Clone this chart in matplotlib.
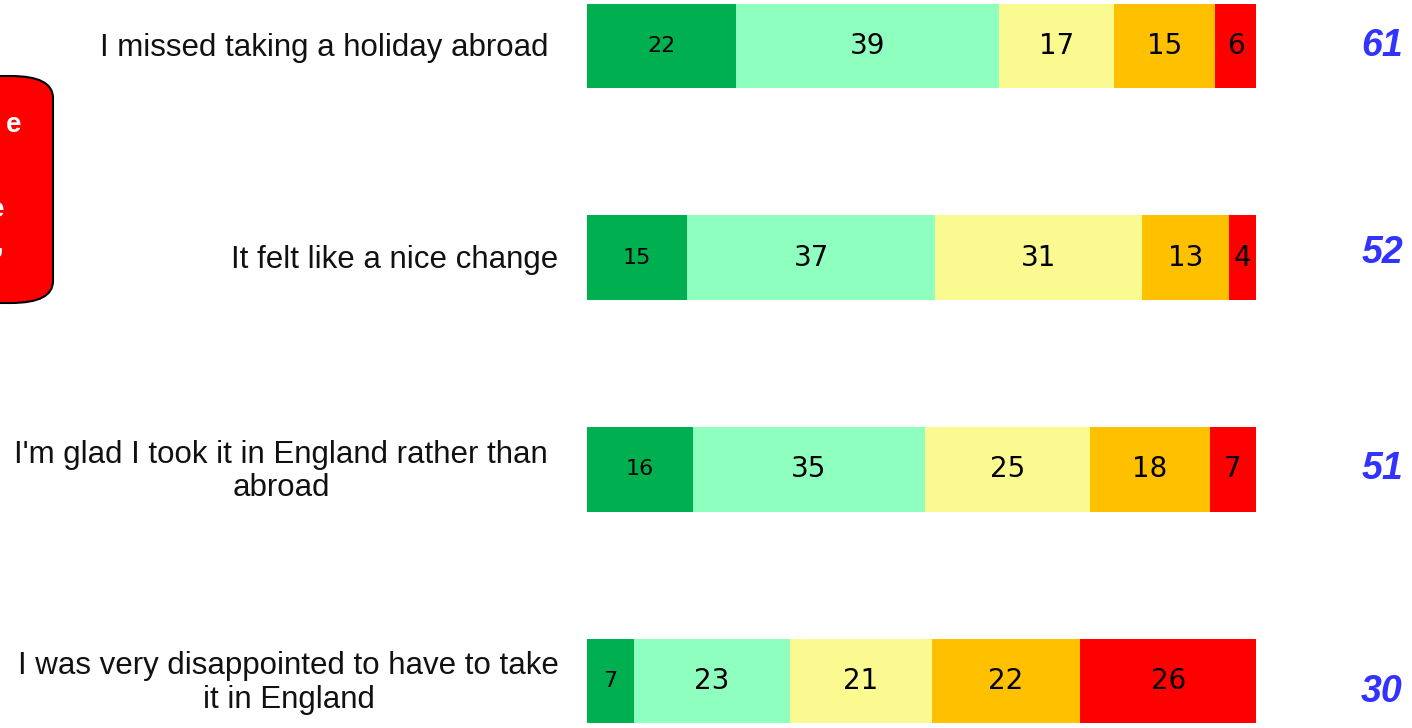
import matplotlib
matplotlib.use("Agg")
import matplotlib.pyplot as plt
from matplotlib.patches import FancyBboxPatch

# statements shown on the left
statements = [
    "I missed taking a holiday abroad",
    "It felt like a nice change",
    "I'm glad I took it in England rather than\nabroad",
    "I was very disappointed to have to take\nit in England",
]
# agree strongly, agree, neither, disagree, disagree strongly (%)
agree_strongly = [22, 15, 16, 7]
agree = [39, 37, 35, 23]
neither = [17, 31, 25, 21]
disagree = [15, 13, 18, 22]
disagree_strongly = [6, 4, 7, 26]
# net agree figure on the right
net_agree = [61, 52, 51, 30]

colors = ["#00B050", "#8FFFC0", "#FAFA90", "#FFC000", "#FF0000"]

W, H = 1412, 728
fig = plt.figure(figsize=(W / 100, H / 100), dpi=100)
fig.patch.set_facecolor("white")

# axes spans bar area horizontally, whole height vertically
ax = fig.add_axes([587 / W, 0, 669 / W, 1])
ax.set_xlim(0, 100)
row_gap = 211.7
ax.set_ylim((H - 46) / row_gap, -46 / row_gap)
ax.axis("off")

series = [agree_strongly, agree, neither, disagree, disagree_strongly]
rows = list(range(len(statements)))
totals = [sum(col) for col in zip(*series)]
left = [0.0] * len(statements)
for k, (vals, c) in enumerate(zip(series, colors)):
    # 100% stacked: each row is scaled to fill the full width
    widths = [v / t * 100 for v, t in zip(vals, totals)]
    ax.barh(rows, widths, left=left, height=0.4, color=c, edgecolor="none")
    for i, v in enumerate(vals):
        size = 16 if k == 0 else 20
        ax.text(left[i] + widths[i] / 2, i, str(v), ha="center",
                va="center", fontsize=size, color="black",
                family="DejaVu Sans")
    left = [l + w for l, w in zip(left, widths)]

px = lambda p: (p - 587) / 6.69
label_right = [549, 558, 548, 559]
label_y = [0.01, 0.01, 0.01, 0.01]
for i, s in enumerate(statements):
    ax.text(px(label_right[i]), i + label_y[i], s,
            ha="right", va="center", multialignment="center",
            fontsize=22.5, family="Liberation Sans", color="#111111",
            linespacing=1.15)

net_y = [0, -0.02, 0, 0.05]
for i, n in enumerate(net_agree):
    ax.text(px(1382), i + net_y[i], str(n), ha="center", va="center",
            fontsize=27, fontweight="bold", fontstyle="italic",
            color="#3333FF", family="Liberation Sans", clip_on=False)

# red call-out box cut off at the left edge
box = FancyBboxPatch((-60 / W, 1 - 303 / H), 113 / W, 227 / H,
                     boxstyle="round,pad=0,rounding_size=0.03",
                     transform=fig.transFigure, facecolor="#FF0000",
                     edgecolor="black", linewidth=1.5)
fig.patches.append(box)
for txt, x, y in [("e", 21, 125), ("e", 4, 210), (",", 3, 245)]:
    fig.text(x / W, 1 - y / H, txt, ha="right", va="center", fontsize=20,
             fontweight="bold", color="white", family="Liberation Sans")

fig.savefig("out.png", dpi=100)
